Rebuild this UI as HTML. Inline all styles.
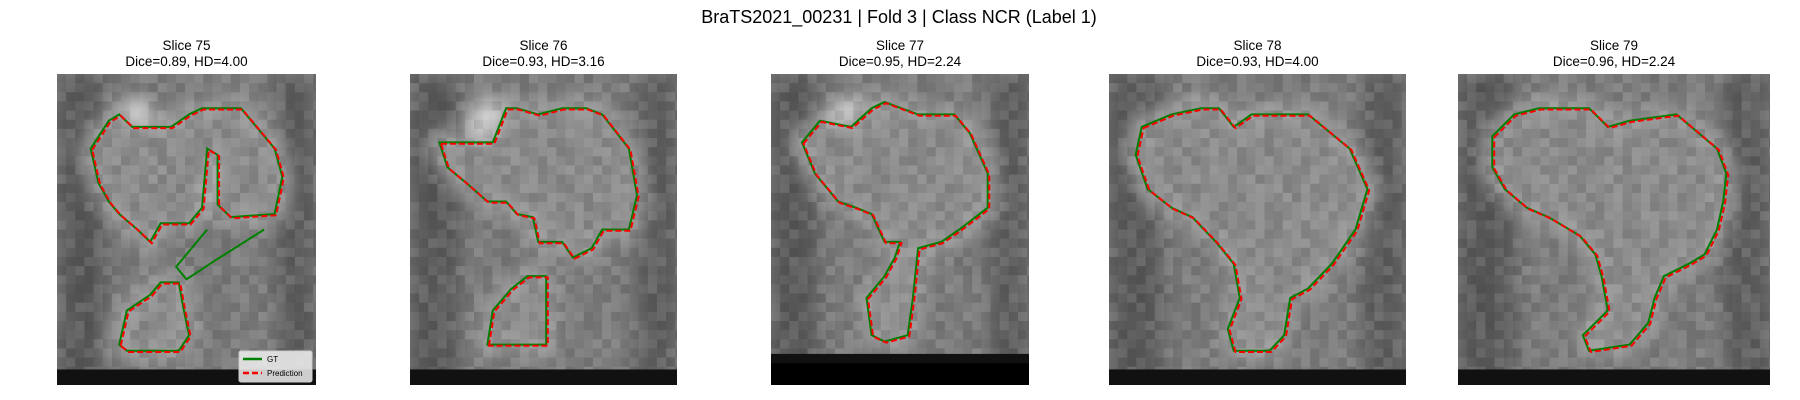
<!DOCTYPE html>
<html><head><meta charset="utf-8">
<style>
body{margin:0;background:#fff;width:1800px;height:400px;overflow:hidden;font-family:"Liberation Sans","DejaVu Sans",sans-serif;}
svg{display:block}
</style></head>
<body>
<svg id="fig" width="1800" height="400" viewBox="0 0 1800 400">
<defs>
<filter id="bl" x="-20%" y="-20%" width="140%" height="140%"><feGaussianBlur stdDeviation="9"/></filter>
<clipPath id="c0"><rect x="57" y="74" width="259" height="311"/></clipPath>
<clipPath id="c1"><rect x="410" y="74" width="267" height="311"/></clipPath>
<clipPath id="c2"><rect x="771" y="74" width="258" height="311"/></clipPath>
<clipPath id="c3"><rect x="1109" y="74" width="297" height="311"/></clipPath>
<clipPath id="c4"><rect x="1458" y="74" width="312" height="311"/></clipPath>
</defs>
<text x="899" y="23" text-anchor="middle" font-size="18" fill="#000">BraTS2021_00231 | Fold 3 | Class NCR (Label 1)</text>
<g id="panels"></g>
</svg>
<script>
const slices=["Slice 75","Slice 76","Slice 77","Slice 78","Slice 79"];
const diceVals=["0.89","0.93","0.95","0.93","0.96"];
const hdVals=["4.00","3.16","2.24","4.00","2.24"];
const gt0a=[[0.13,0.24],[0.2,0.15],[0.24,0.13],[0.29,0.17],[0.44,0.17],[0.51,0.13],[0.56,0.11],[0.71,0.11],[0.84,0.24],[0.87,0.33],[0.84,0.45],[0.67,0.46],[0.62,0.42],[0.62,0.26],[0.58,0.24],[0.56,0.43],[0.51,0.48],[0.4,0.48],[0.36,0.54],[0.31,0.5],[0.24,0.45],[0.2,0.41],[0.16,0.35]];
const gt0b=[[0.24,0.87],[0.27,0.76],[0.36,0.71],[0.4,0.67],[0.47,0.67],[0.49,0.76],[0.51,0.84],[0.47,0.89],[0.27,0.89]];
const gt0tail=[[0.58,0.5],[0.5,0.58],[0.46,0.62],[0.5,0.66],[0.61,0.6],[0.8,0.5]];
const gt1a=[[0.11,0.22],[0.16,0.22],[0.31,0.22],[0.36,0.11],[0.40,0.11],[0.48,0.13],[0.57,0.11],[0.66,0.11],[0.72,0.13],[0.82,0.24],[0.85,0.39],[0.82,0.5],[0.72,0.5],[0.68,0.56],[0.61,0.59],[0.57,0.54],[0.48,0.54],[0.46,0.46],[0.40,0.45],[0.36,0.41],[0.29,0.41],[0.21,0.35],[0.14,0.30]];
const gt1b=[[0.29,0.87],[0.31,0.76],[0.38,0.69],[0.44,0.65],[0.51,0.65],[0.51,0.87]];
const gt2a=[[0.12,0.22],[0.19,0.15],[0.31,0.17],[0.39,0.11],[0.44,0.09],[0.57,0.13],[0.71,0.13],[0.77,0.19],[0.84,0.32],[0.84,0.43],[0.73,0.50],[0.66,0.54],[0.57,0.56],[0.55,0.72],[0.53,0.84],[0.44,0.86],[0.39,0.84],[0.37,0.72],[0.44,0.65],[0.48,0.59],[0.50,0.54],[0.44,0.54],[0.39,0.45],[0.33,0.43],[0.26,0.41],[0.17,0.32]];
const gt3a=[[0.11,0.17],[0.21,0.13],[0.31,0.11],[0.37,0.11],[0.42,0.17],[0.48,0.13],[0.67,0.13],[0.81,0.24],[0.87,0.37],[0.83,0.50],[0.75,0.61],[0.67,0.69],[0.61,0.72],[0.59,0.84],[0.54,0.89],[0.42,0.89],[0.40,0.82],[0.44,0.72],[0.42,0.61],[0.36,0.54],[0.28,0.46],[0.21,0.43],[0.13,0.37],[0.09,0.26]];
const gt4a=[[0.11,0.20],[0.18,0.13],[0.26,0.11],[0.33,0.11],[0.42,0.11],[0.48,0.17],[0.55,0.15],[0.70,0.13],[0.83,0.24],[0.86,0.32],[0.85,0.41],[0.83,0.50],[0.79,0.58],[0.74,0.61],[0.66,0.65],[0.63,0.72],[0.61,0.80],[0.55,0.87],[0.42,0.89],[0.40,0.84],[0.48,0.76],[0.46,0.65],[0.44,0.58],[0.39,0.52],[0.29,0.46],[0.22,0.43],[0.15,0.37],[0.11,0.30]];
const contours=[[gt0a,gt0b],[gt1a,gt1b],[gt2a],[gt3a],[gt4a]];
const tails=[[gt0tail],[],[],[],[]];
const boxes=[[57,74,259,311],[410,74,267,311],[771,74,258,311],[1109,74,297,311],[1458,74,312,311]];
const NS="http://www.w3.org/2000/svg";
const root=document.getElementById('panels');
function mk(tag,attrs,parent){const e=document.createElementNS(NS,tag);for(const k in attrs)e.setAttribute(k,attrs[k]);parent.appendChild(e);return e;}
function px(b,p){return (b[0]+p[0]*b[2]).toFixed(1)+","+(b[1]+p[1]*b[3]).toFixed(1);}
function hash(a,b,c){let h=(a*374761393+b*668265263+c*2147483647)|0;h=(h^(h>>>13))*1274126177|0;return ((h^(h>>>16))>>>0)/4294967295;}
boxes.forEach((b,i)=>{
  const g=mk('g',{},root);
  
  
  const cx=b[0]+b[2]/2;
  const t1=mk('text',{x:cx,y:50,'text-anchor':'middle','font-size':'13.5',fill:'#000'},g);
  t1.textContent=slices[i];
  
  
  const t2=mk('text',{x:cx,y:66,'text-anchor':'middle','font-size':'13.5',fill:'#000'},g);
  t2.textContent="Dice="+diceVals[i]+", HD="+hdVals[i];
  
  
  const img=mk('g',{'clip-path':'url(#c'+i+')'},g);
  
  
  mk('rect',{x:b[0],y:b[1],width:b[2],height:b[3],fill:'#7c7c7c'},img);
  const blur=mk('g',{filter:'url(#bl)'},img);
  mk('rect',{x:b[0],y:b[1],width:b[2]*0.18,height:b[3],fill:'#5a5a5a'},blur);
  mk('rect',{x:b[0]+b[2]*0.85,y:b[1],width:b[2]*0.15,height:b[3],fill:'#5e5e5e'},blur);
  mk('ellipse',{cx:b[0]+b[2]*0.3,cy:b[1]+b[3]*0.16,rx:b[2]*0.08,ry:b[3]*0.08,fill:'#d8d8d8'},blur);
  contours[i].forEach(c=>{
    mk('polygon',{points:c.map(p=>px(b,p)).join(' '),fill:'none',stroke:'#b4b4b4','stroke-width':14},blur);
    mk('polygon',{points:c.map(p=>px(b,p)).join(' '),fill:'#8c8c8c'},blur);
  });
  // pixel texture
  const cs=b[3]/34;
  const tex=mk('g',{},img);
  for(let r=0;r<34;r++)for(let c=0;c*cs<b[2];c++){
    const v=hash(i+1,r,c);
    const dark=v<0.5;
    mk('rect',{x:(b[0]+c*cs).toFixed(1),y:(b[1]+r*cs).toFixed(1),width:cs.toFixed(2),height:cs.toFixed(2),fill:dark?'#000':'#fff','fill-opacity':(Math.abs(v-0.5)*0.22).toFixed(3)},tex);
  }
  mk('rect',{x:b[0],y:b[1]+b[3]*(i==2?0.9:0.95),width:b[2],height:b[3]*0.1,fill:'#111'},img);
  if(i==2) mk('rect',{x:b[0],y:b[1]+b[3]*0.93,width:b[2],height:b[3]*0.07,fill:'#000'},img);
  contours[i].forEach(c=>{
    const l=mk('polygon',{points:c.map(p=>px(b,p)).join(' '),fill:'none',stroke:'#008000','stroke-width':2},g);
    
    
    const r=mk('polygon',{points:c.map(p=>px(b,[p[0]+0.006,p[1]+0.004])).join(' '),fill:'none',stroke:'#ff0000','stroke-width':2,'stroke-dasharray':'6,3'},g);
    
    
  });
  tails[i].forEach(c=>{
    const l=mk('polyline',{points:c.map(p=>px(b,p)).join(' '),fill:'none',stroke:'#008000','stroke-width':2},g);
    
    
  });
});
const lg=mk('g',{},root);


mk('rect',{x:239,y:351,width:73,height:31,rx:2,fill:'#f0f0f0','fill-opacity':0.85,stroke:'#ccc'},lg);
mk('line',{x1:243,y1:359,x2:262,y2:359,stroke:'#008000','stroke-width':2.5},lg);
mk('line',{x1:243,y1:373,x2:262,y2:373,stroke:'#ff0000','stroke-width':2.5,'stroke-dasharray':'6,3'},lg);
const lt1=mk('text',{x:267,y:362,'font-size':'8',fill:'#000'},lg);lt1.textContent='GT';


const lt2=mk('text',{x:267,y:376,'font-size':'8',fill:'#000'},lg);lt2.textContent='Prediction';


</script>
</body></html>
